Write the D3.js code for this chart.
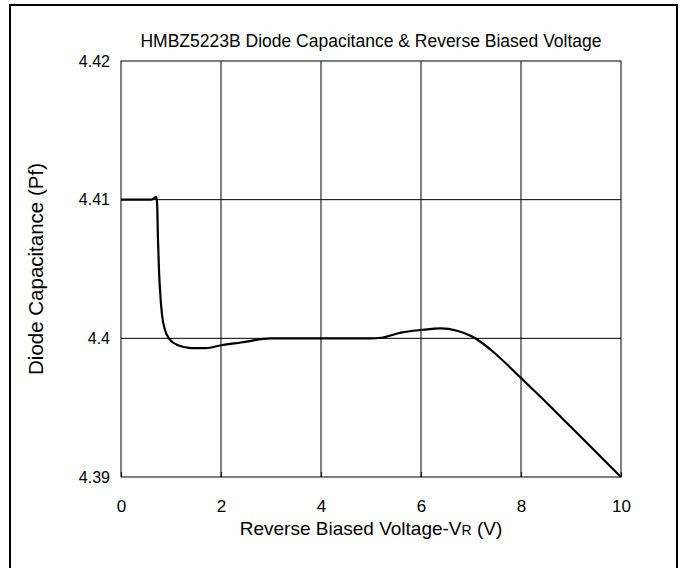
<!DOCTYPE html>
<html><head><meta charset="utf-8">
<script src="https://cdn.jsdelivr.net/npm/d3@7"></script>
<style>
html,body{margin:0;padding:0;background:#fff;}
text{font-family:"Liberation Sans",Arial,sans-serif;fill:#000;}
</style></head>
<body>
<svg id="chart" width="682" height="568"></svg>
<script>
const voltage = [0, 0.3, 0.6, 0.66, 0.7, 0.72, 0.74, 0.76, 0.78, 0.82, 0.88, 0.98, 1.14, 1.4, 1.7, 2.0, 2.4, 3.0, 4.0, 5.0, 5.2, 5.6, 6.0, 6.4, 6.72, 7.0, 7.1, 7.4, 8.0, 8.4, 9.0, 9.5, 10];
const capacitance = [4.41, 4.41, 4.41, 4.4101, 4.4102, 4.4099, 4.4071, 4.4049, 4.4035, 4.4017, 4.4006, 4.3999, 4.3995, 4.3993, 4.3993, 4.3995, 4.3997, 4.4, 4.4, 4.4, 4.40004, 4.40041, 4.4006, 4.40072, 4.40055, 4.40017, 4.39997, 4.39916, 4.39714, 4.39575, 4.3936, 4.3918, 4.39];
const xTicks = [0, 2, 4, 6, 8, 10];
const yTicks = [4.39, 4.4, 4.41, 4.42];
const yTickLabels = ["4.39", "4.4", "4.41", "4.42"];
const titleText = "HMBZ5223B Diode Capacitance & Reverse Biased Voltage";

const svg = d3.select("#chart");
const m = {left:121, top:61, right:621, bottom:477};
const x = d3.scaleLinear().domain([0,10]).range([m.left, m.right]);
const y = d3.scaleLinear().domain([4.39,4.42]).range([m.bottom, m.top]);

// outer frame
svg.append("rect").attr("x",10).attr("y",5).attr("width",667).attr("height",570)
  .attr("fill","none").attr("stroke","#000").attr("stroke-width",2);

// gridlines
svg.append("g").selectAll("line").data(xTicks.slice(1,-1)).join("line")
  .attr("x1",d=>x(d)).attr("x2",d=>x(d)).attr("y1",m.top).attr("y2",m.bottom)
  .attr("stroke","#000").attr("stroke-width",1);
svg.append("g").selectAll("line").data(yTicks.slice(1,-1)).join("line")
  .attr("x1",m.left).attr("x2",m.right).attr("y1",d=>y(d)).attr("y2",d=>y(d))
  .attr("stroke","#000").attr("stroke-width",1);

// plot border
svg.append("rect").attr("x",m.left).attr("y",m.top).attr("width",m.right-m.left).attr("height",m.bottom-m.top)
  .attr("fill","none").attr("stroke","#000").attr("stroke-width",1);

// axes
const xAxis = d3.axisBottom(x).tickValues(xTicks).tickSizeInner(-5).tickSizeOuter(0).tickPadding(23);
const gx = svg.append("g").attr("transform",`translate(0,${m.bottom})`).call(xAxis);
gx.select(".domain").remove();
gx.selectAll("text").attr("font-size",17).attr("font-family","Liberation Sans, Arial, sans-serif").attr("fill","#000");
gx.selectAll("line").attr("stroke","#000");

const yAxis = d3.axisLeft(y).tickValues(yTicks).tickFormat((d,i)=>yTickLabels[i]).tickSizeInner(0).tickSizeOuter(0).tickPadding(11);
const gy = svg.append("g").attr("transform",`translate(${m.left},0)`).call(yAxis);
gy.select(".domain").remove();
gy.selectAll("text").attr("font-size",16).attr("font-family","Liberation Sans, Arial, sans-serif").attr("fill","#000");

// line
const line = d3.line().x(d=>x(d[0])).y(d=>y(d[1])).curve(d3.curveMonotoneX);
svg.append("path").datum(voltage.map((v,i)=>[v,capacitance[i]]))
  .attr("d",line).attr("fill","none").attr("stroke","#000").attr("stroke-width",2.2)
  .attr("stroke-linejoin","round");

// title
svg.append("text").attr("x",(m.left+m.right)/2).attr("y",47).attr("text-anchor","middle")
  .attr("font-size",17.5).text(titleText);

// x axis title
const xt = svg.append("text").attr("x",(m.left+m.right)/2).attr("y",535).attr("text-anchor","middle")
  .attr("font-size",19);
xt.append("tspan").text("Reverse Biased Voltage-V");
xt.append("tspan").attr("font-size",14).text("R");
xt.append("tspan").text(" (V)");

// y axis title
svg.append("text").attr("transform",`translate(43,${(m.top+m.bottom)/2}) rotate(-90)`)
  .attr("text-anchor","middle").attr("font-size",20.5).text("Diode Capacitance (Pf)");
</script>
</body></html>
